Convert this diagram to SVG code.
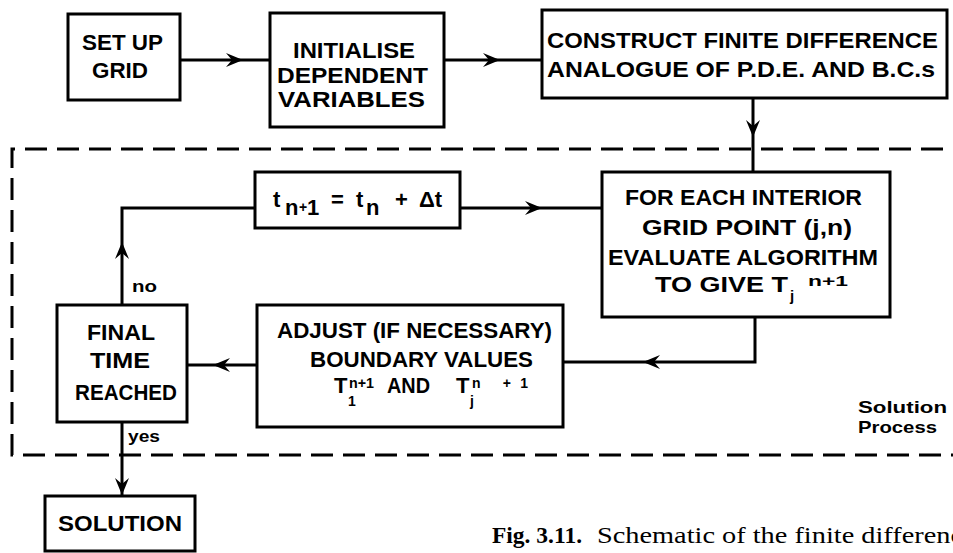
<svg xmlns="http://www.w3.org/2000/svg" xmlns:xlink="http://www.w3.org/1999/xlink" width="953" height="553" viewBox="0 0 953 553">
<style>
.box{fill:#fff;stroke:#000;stroke-width:3}
.t{font-family:"Liberation Sans",Arial,sans-serif;font-weight:bold;font-size:22px;fill:#000}
.s{font-size:15px}
.ss{font-size:14px}
.lbl{font-family:"Liberation Sans",Arial,sans-serif;font-weight:bold;font-size:17px;fill:#000}
.cap{font-family:"Liberation Serif","Times New Roman",serif;font-size:23px;fill:#000}
.con{fill:none;stroke:#000;stroke-width:3;stroke-linejoin:miter}
.dash{fill:none;stroke:#000;stroke-width:3;stroke-dasharray:22 10}
</style>
<defs>
<path id="ah" d="M0,0 L-17,-7 L-11,0 L-17,7 Z" fill="#000"/>
</defs>
<rect width="953" height="553" fill="#fff"/>

<g id="boundary">
<path class="dash" d="M975,149 H12 V455 H975"/>
<text class="lbl" x="858" y="413" textLength="89" lengthAdjust="spacingAndGlyphs">Solution</text>
<text class="lbl" x="858" y="433" textLength="79" lengthAdjust="spacingAndGlyphs">Process</text>
</g>

<g id="connectors">
<path class="con" d="M180,60 H270"/>
<use xlink:href="#ah" transform="translate(243,60)"/>
<path class="con" d="M444,60 H542"/>
<use xlink:href="#ah" transform="translate(500,60)"/>
<path class="con" d="M753,98 V172"/>
<use xlink:href="#ah" transform="translate(753,137) rotate(90)"/>
<path class="con" d="M460,208 H602"/>
<use xlink:href="#ah" transform="translate(542,208)"/>
<path class="con" d="M755,317 V362 H563"/>
<use xlink:href="#ah" transform="translate(643,362) rotate(180)"/>
<path class="con" d="M257,365 H187"/>
<use xlink:href="#ah" transform="translate(213,365) rotate(180)"/>
<path class="con" d="M122,305 V208 H255"/>
<use xlink:href="#ah" transform="translate(122,242) rotate(-90)"/>
<path class="con" d="M122,422 V496"/>
<use xlink:href="#ah" transform="translate(122,495) rotate(90)"/>
<text class="lbl" x="132" y="292" textLength="25" lengthAdjust="spacingAndGlyphs">no</text>
<text class="lbl" x="128" y="442" textLength="32" lengthAdjust="spacingAndGlyphs">yes</text>
</g>

<g id="setup">
<rect class="box" x="68" y="14" width="112" height="86"/>
<text class="t" x="82" y="50" textLength="81" lengthAdjust="spacingAndGlyphs">SET UP</text>
<text class="t" x="92" y="78" textLength="56" lengthAdjust="spacingAndGlyphs">GRID</text>
</g>

<g id="initialise">
<rect class="box" x="270" y="13" width="174" height="114"/>
<text class="t" x="293" y="58" textLength="122" lengthAdjust="spacingAndGlyphs">INITIALISE</text>
<text class="t" x="277" y="83" textLength="151" lengthAdjust="spacingAndGlyphs">DEPENDENT</text>
<text class="t" x="278" y="107" textLength="147" lengthAdjust="spacingAndGlyphs">VARIABLES</text>
</g>

<g id="construct">
<rect class="box" x="542" y="10" width="405" height="88"/>
<text class="t" x="547" y="48" textLength="391" lengthAdjust="spacingAndGlyphs">CONSTRUCT  FINITE  DIFFERENCE</text>
<text class="t" x="547" y="77" textLength="388" lengthAdjust="spacingAndGlyphs">ANALOGUE  OF P.D.E.  AND  B.C.s</text>
</g>

<g id="foreach">
<rect class="box" x="602" y="172" width="288" height="145"/>
<text class="t" x="625" y="205" textLength="237" lengthAdjust="spacingAndGlyphs">FOR EACH INTERIOR</text>
<text class="t" x="642" y="235" textLength="210" lengthAdjust="spacingAndGlyphs">GRID  POINT  (j,n)</text>
<text class="t" x="608" y="265" textLength="270" lengthAdjust="spacingAndGlyphs">EVALUATE  ALGORITHM</text>
<text class="t" x="655" y="292" textLength="133" lengthAdjust="spacingAndGlyphs">TO GIVE T</text>
<text class="t s" x="790" y="301">j</text>
<text class="t s" x="808" y="286" textLength="40" lengthAdjust="spacingAndGlyphs">n+1</text>
</g>

<g id="timestep">
<rect class="box" x="255" y="172" width="205" height="56"/>
<text class="t"><tspan x="273" y="207">t</tspan><tspan x="285" y="215">n</tspan><tspan x="299" y="212" font-size="14">+</tspan><tspan x="307" y="215">1</tspan><tspan x="331" y="207">=</tspan><tspan x="356" y="207">t</tspan><tspan x="366" y="215">n</tspan><tspan x="395" y="207">+</tspan><tspan x="419" y="207">Δt</tspan></text>
</g>

<g id="adjust">
<rect class="box" x="257" y="305" width="306" height="122"/>
<text class="t" x="277" y="338" textLength="275" lengthAdjust="spacingAndGlyphs">ADJUST (IF NECESSARY)</text>
<text class="t" x="310" y="367" textLength="223" lengthAdjust="spacingAndGlyphs">BOUNDARY VALUES</text>
<text class="t" x="334" y="393">T</text>
<text class="t ss" x="348" y="406">1</text>
<text class="t ss" x="349" y="388" textLength="25" lengthAdjust="spacingAndGlyphs">n+1</text>
<text class="t" x="387" y="393" textLength="43" lengthAdjust="spacingAndGlyphs">AND</text>
<text class="t" x="456" y="393">T</text>
<text class="t ss" x="470" y="406">j</text>
<text class="t ss" x="472" y="388" textLength="56" lengthAdjust="spacing">n +1</text>
</g>

<g id="final">
<rect class="box" x="57" y="305" width="130" height="117"/>
<text class="t" x="87" y="340" textLength="68" lengthAdjust="spacingAndGlyphs">FINAL</text>
<text class="t" x="90" y="368" textLength="60" lengthAdjust="spacingAndGlyphs">TIME</text>
<text class="t" x="75" y="400" textLength="102" lengthAdjust="spacingAndGlyphs">REACHED</text>
</g>

<g id="solution">
<rect class="box" x="45" y="496" width="150" height="55"/>
<text class="t" x="58" y="531" textLength="124" lengthAdjust="spacingAndGlyphs">SOLUTION</text>
</g>

<g id="caption">
<text class="cap" x="492" y="543" font-weight="bold" textLength="90" lengthAdjust="spacingAndGlyphs">Fig. 3.11.</text>
<text class="cap" x="597" y="543" textLength="366" lengthAdjust="spacingAndGlyphs">Schematic of the finite differenc</text>
</g>
</svg>
